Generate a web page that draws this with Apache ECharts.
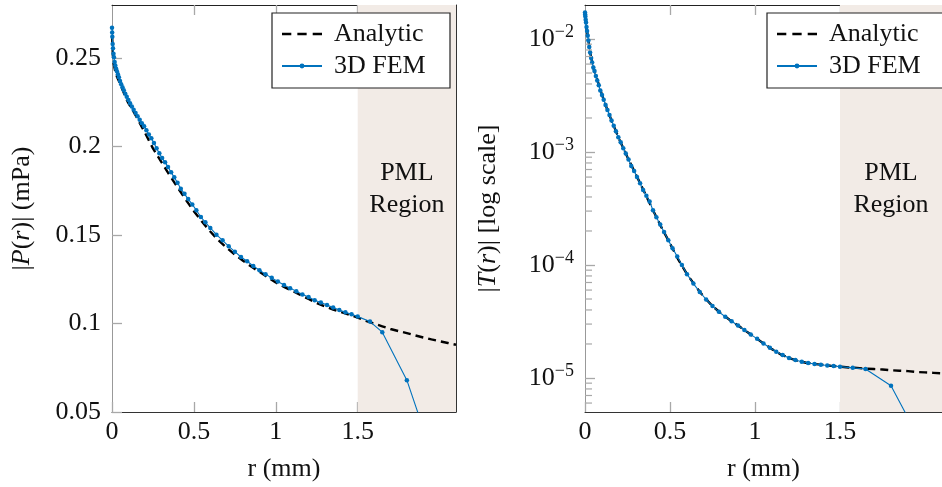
<!DOCTYPE html>
<html>
<head>
<meta charset="utf-8">
<script src="https://cdn.jsdelivr.net/npm/echarts@6/dist/echarts.min.js"></script>
<style>
  html, body { margin: 0; padding: 0; background: #fff; }
  #chart { width: 942px; height: 487px; }
</style>
</head>
<body>
<div id="chart"></div>
<script>
// Radial profiles: FEM samples (with PML beyond r = 1.5 mm) vs analytic solution
const femR = [0, 0.001, 0.002, 0.004, 0.006, 0.009, 0.012, 0.016, 0.02, 0.025,
  0.03, 0.036, 0.042, 0.049, 0.056, 0.064, 0.072, 0.081, 0.09, 0.1,
  0.11, 0.121, 0.132, 0.144, 0.156, 0.169, 0.182, 0.196, 0.21, 0.225,
  0.24, 0.256, 0.272, 0.289, 0.306, 0.324, 0.342, 0.361, 0.38, 0.4,
  0.42, 0.4425, 0.465, 0.49, 0.515, 0.5425, 0.57, 0.6, 0.6375, 0.675,
  0.7125, 0.75, 0.7875, 0.825, 0.8625, 0.9, 0.9375, 0.975, 1.0125, 1.05,
  1.0875, 1.125, 1.1625, 1.2, 1.2375, 1.275, 1.3125, 1.35, 1.3875, 1.425,
  1.4625, 1.5, 1.575, 1.65, 1.8, 1.95];
const femP = [0.2671, 0.2645, 0.2620, 0.2580, 0.2555, 0.2525, 0.2505, 0.2478, 0.2458, 0.2440,
  0.2425, 0.2408, 0.2392, 0.2370, 0.2352, 0.2335, 0.2318, 0.2298, 0.2282, 0.2263,
  0.2245, 0.2227, 0.2208, 0.2190, 0.2172, 0.2152, 0.2132, 0.2115, 0.2092, 0.2068,
  0.2047, 0.2020, 0.1990, 0.1962, 0.1935, 0.1911, 0.1885, 0.1855, 0.1826, 0.1795,
  0.1762, 0.1733, 0.1703, 0.1673, 0.1640, 0.1602, 0.1572, 0.1540, 0.1502, 0.1470,
  0.1436, 0.1406, 0.1376, 0.1352, 0.1325, 0.1301, 0.1278, 0.1258, 0.1237, 0.1218,
  0.1200, 0.1182, 0.1164, 0.1150, 0.1132, 0.1119, 0.1104, 0.1091, 0.1076, 0.1063,
  0.1052, 0.1039, 0.1011, 0.0951, 0.0680, 0.0270];
const femT = [0.0172, 0.0165, 0.0158, 0.0148, 0.0140, 0.0128, 0.0118, 0.0107, 0.0097, 0.0085,
  0.0076, 0.0068, 0.0062, 0.0056, 0.0052, 0.0047, 0.0043, 0.0039, 0.0035, 0.0032,
  0.0029, 0.0026, 0.00235, 0.00213, 0.0019, 0.00171, 0.00153, 0.00135, 0.00122, 0.00108,
  0.00097, 0.00086, 0.00075, 0.00068, 0.0006, 0.00053, 0.00046, 0.00041, 0.000365, 0.000305,
  0.000265, 0.000228, 0.000196, 0.000166, 0.000141, 0.000119, 0.0001, 0.000083, 0.0000685, 0.0000578,
  0.0000495, 0.0000433, 0.0000385, 0.0000348, 0.0000318, 0.0000291, 0.0000266, 0.0000243, 0.0000222, 0.0000202,
  0.0000185, 0.0000171, 0.00001595, 0.00001505, 0.0000144, 0.0000139, 0.00001355, 0.0000133, 0.0000131, 0.0000129,
  0.00001275, 0.0000126, 0.0000123, 0.000012, 0.00000855, 0.0000032];

const anaR = [0.001, 0.005, 0.01, 0.02, 0.03, 0.05, 0.08, 0.1, 0.13, 0.16,
  0.2, 0.25, 0.3, 0.35, 0.4, 0.45, 0.5, 0.55, 0.6, 0.65,
  0.7, 0.75, 0.8, 0.85, 0.9, 0.95, 1.0, 1.05, 1.1, 1.15,
  1.2, 1.25, 1.3, 1.35, 1.4, 1.45, 1.5, 1.55, 1.6, 1.65,
  1.7, 1.75, 1.8, 1.85, 1.9, 1.95, 2.0, 2.05, 2.1];
const anaP = [0.2620, 0.2520, 0.2470, 0.2425, 0.2395, 0.2355, 0.2285, 0.2245, 0.2200, 0.2150,
  0.2080, 0.1990, 0.1915, 0.1840, 0.1770, 0.1700, 0.1635, 0.1575, 0.1520, 0.1470,
  0.1428, 0.1390, 0.1355, 0.1322, 0.1292, 0.1262, 0.1232, 0.1207, 0.1185, 0.1161,
  0.1139, 0.1116, 0.1096, 0.1079, 0.1064, 0.1049, 0.1033, 0.1015, 0.0999, 0.0984,
  0.0969, 0.0957, 0.0946, 0.0933, 0.0921, 0.0910, 0.0900, 0.0890, 0.0880];
const anaT = [0.0165, 0.0140, 0.0124, 0.0097, 0.0076, 0.0055, 0.0040, 0.0032, 0.0024, 0.00184,
  0.00131, 0.0009, 0.00063, 0.00044, 0.000305, 0.000215, 0.000155, 0.000111, 0.000083, 0.000065,
  0.000052, 0.0000433, 0.0000373, 0.0000328, 0.0000291, 0.0000258, 0.0000229, 0.0000202, 0.000018, 0.0000162,
  0.00001505, 0.0000142, 0.00001365, 0.0000133, 0.00001305, 0.0000128, 0.0000126, 0.0000124, 0.0000123, 0.0000121,
  0.000012, 0.0000119, 0.0000117, 0.0000116, 0.0000115, 0.0000113, 0.0000112, 0.0000111, 0.000011];

const xTicks = [0, 0.5, 1, 1.5];
const pTicks = [0.05, 0.1, 0.15, 0.2, 0.25];
const tTicks = [1e-5, 1e-4, 1e-3, 1e-2];
const tMinorTicks = [6e-6, 7e-6, 8e-6, 9e-6,
  2e-5, 3e-5, 4e-5, 5e-5, 6e-5, 7e-5, 8e-5, 9e-5,
  2e-4, 3e-4, 4e-4, 5e-4, 6e-4, 7e-4, 8e-4, 9e-4,
  2e-3, 3e-3, 4e-3, 5e-3, 6e-3, 7e-3, 8e-3, 9e-3];
const pmlStart = 1.5;
const rMax = 2.1;

const FONT = 'Liberation Serif';
const TXT = '#111';
const BLUE = '#0072bd';
const TICK = { color: '#a8a8a8', width: 1.3 };
// three dashes, used as the legend key of the analytic curve
const DASH_ICON = 'path://M0,0h9.3v2.4h-9.3zM15.35,0h9.3v2.4h-9.3zM30.7,0h9.3v2.4h-9.3z';
const zip = (xs, ys) => xs.map((x, i) => [x, ys[i]]);

const txt = (extra) => Object.assign({ fontFamily: FONT, fontSize: 26, color: TXT }, extra || {});

function xBottom(gi) {
  return {
    type: 'value', gridIndex: gi, min: 0, max: rMax, position: 'bottom',
    name: 'r (mm)', nameLocation: 'middle', nameGap: 44, nameTextStyle: txt(),
    axisLine: { show: true, onZero: false, lineStyle: { color: '#333', width: 1 } },
    axisTick: { show: true, inside: true, length: 10, customValues: xTicks, lineStyle: TICK },
    axisLabel: Object.assign({ customValues: xTicks, margin: 7, formatter: v => String(v) }, txt()),
    splitLine: { show: false }
  };
}
function xTop(gi) {
  return {
    type: 'value', gridIndex: gi, min: 0, max: rMax, position: 'top',
    axisLine: { show: true, onZero: false, lineStyle: { color: '#222', width: 1 } },
    axisTick: { show: true, inside: true, length: 10, customValues: [0.5, 1, 1.5], lineStyle: TICK },
    axisLabel: { show: false }, splitLine: { show: false }
  };
}

function pmlArea() {
  return {
    silent: true,
    itemStyle: { color: '#f2ebe6' },
    label: Object.assign({ show: true, position: 'inside', formatter: 'PML\nRegion', lineHeight: 32, offset: [0, -19] }, txt()),
    data: [[{ xAxis: pmlStart }, { xAxis: rMax }]]
  };
}

function legendAt(left) {
  return {
    left: left, top: 13, orient: 'vertical', selectedMode: false,
    data: [{ name: 'Analytic', icon: DASH_ICON, itemStyle: { color: '#000' } }, { name: '3D FEM' }],
    backgroundColor: '#fff', borderColor: '#222', borderWidth: 1.2, borderRadius: 0,
    padding: [6, 12, 7, 9], itemWidth: 40, itemHeight: 6, itemGap: 2,
    textStyle: txt({ lineHeight: 30, width: 104, padding: [0, 0, 0, 7] })
  };
}

const option = {
  animation: false,
  backgroundColor: '#fff',
  grid: [
    { left: 112, top: 5, width: 344, height: 407 },
    { left: 585, top: 5, width: 367, height: 407 }
  ],
  legend: [legendAt(272), legendAt(767)],
  xAxis: [xBottom(0), xTop(0), xBottom(1), xTop(1)],
  yAxis: [
    {
      type: 'value', gridIndex: 0, min: 0.05, max: 0.28, position: 'left',
      name: '|{i|P}({i|r})| (mPa)', nameLocation: 'middle', nameGap: 77,
      nameTextStyle: txt({ rich: { i: txt({ fontStyle: 'italic' }) } }),
      axisLine: { show: true, onZero: false, lineStyle: { color: '#999', width: 1 } },
      axisTick: { show: true, inside: true, length: 10, customValues: pTicks, lineStyle: TICK },
      axisLabel: Object.assign({ customValues: pTicks, margin: 11, formatter: v => String(v) }, txt()),
      splitLine: { show: false }
    },
    {
      type: 'value', gridIndex: 0, min: 0.05, max: 0.28, position: 'right',
      axisLine: { show: true, onZero: false, lineStyle: { color: '#333', width: 1 } },
      axisTick: { show: true, inside: true, length: 10, customValues: [0.1, 0.15, 0.2, 0.25], lineStyle: TICK },
      axisLabel: { show: false }, splitLine: { show: false }
    },
    {
      type: 'log', logBase: 10, gridIndex: 1, min: 5e-6, max: 0.02, position: 'left',
      name: '|{i|T}({i|r})| [log scale]', nameLocation: 'middle', nameGap: 84,
      nameTextStyle: txt({ rich: { i: txt({ fontStyle: 'italic' }) } }),
      axisLine: { show: true, onZero: false, lineStyle: { color: '#999', width: 1 } },
      axisTick: { show: true, inside: true, length: 10, customValues: tTicks, lineStyle: TICK },
      axisLabel: Object.assign({
        customValues: tTicks, margin: 11,
        formatter: v => '10{sup|\u2212' + Math.abs(Math.round(Math.log10(v))) + '}',
        rich: { sup: { fontFamily: FONT, fontSize: 18, color: TXT, padding: [0, 0, 14, 0] } }
      }, txt()),
      splitLine: { show: false }
    }
  ],
  series: [
    {
      name: 'Analytic', type: 'line', xAxisIndex: 0, yAxisIndex: 0,
      data: zip(anaR, anaP), symbol: 'none', showSymbol: false,
      lineStyle: { color: '#000', width: 2.4, type: [8, 5] }, itemStyle: { color: '#000' },
      markArea: pmlArea()
    },
    {
      name: '3D FEM', type: 'line', xAxisIndex: 0, yAxisIndex: 0,
      data: zip(femR, femP), symbol: 'circle', symbolSize: 4.5, showSymbol: true,
      lineStyle: { color: BLUE, width: 1.1 }, itemStyle: { color: BLUE }
    },
    {
      name: 'Analytic', type: 'line', xAxisIndex: 2, yAxisIndex: 2,
      data: zip(anaR, anaT), symbol: 'none', showSymbol: false,
      lineStyle: { color: '#000', width: 2.4, type: [8, 5] }, itemStyle: { color: '#000' },
      markArea: pmlArea()
    },
    {
      name: '3D FEM', type: 'line', xAxisIndex: 2, yAxisIndex: 2,
      data: zip(femR, femT), symbol: 'circle', symbolSize: 4.5, showSymbol: true,
      lineStyle: { color: BLUE, width: 1.1 }, itemStyle: { color: BLUE }
    },
    {
      // minor ticks at 2..9 x 10^k on the log axis
      name: 'minor', type: 'custom', xAxisIndex: 2, yAxisIndex: 2, silent: true, z: 5,
      data: tMinorTicks.map(v => [0, v]),
      renderItem: (params, api) => {
        const p = api.coord([0, api.value(1)]);
        return {
          type: 'line',
          shape: { x1: p[0], y1: p[1], x2: p[0] + 7, y2: p[1] },
          style: { stroke: '#a8a8a8', lineWidth: 1.2 }
        };
      }
    }
  ]
};

const chart = echarts.init(document.getElementById('chart'), null, { renderer: 'canvas' });
chart.setOption(option);
</script>
</body>
</html>
